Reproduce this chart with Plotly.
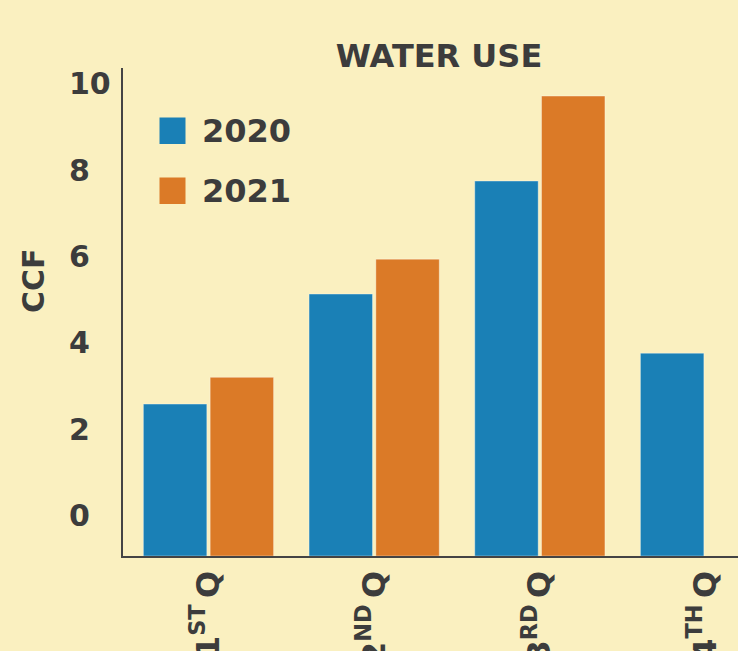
import plotly.graph_objects as go

# ---- data ----
quarters = ["1<sup>ST</sup>\u2009Q", "2<sup>ND</sup>\u2009Q", "3<sup>RD</sup>\u2009Q", "4<sup>TH</sup>\u2009Q"]
use_2020 = [2.58, 5.13, 7.75, 3.76]
use_2021 = [3.20, 5.94, 9.72, None]
series_names = ["2020", "2021"]
y_ticks = [0, 2, 4, 6, 8, 10]

# ---- style ----
W, H = 738, 651
BG = "#FAF0C0"
BLUE = "#1A80B6"
ORANGE = "#DB7A27"
TXT = "#3C3C3C"
AXIS = "#444444"
FONT = "DejaVu Sans, sans-serif"

Y_MIN, Y_MAX = -0.94, 10.37
X_MIN, X_MAX = -0.516, 3.196
PLOT_LEFT = 123
PLOT_TOP, PLOT_BOTTOM = 68, 556

def py(sy):
    return (PLOT_BOTTOM - sy) / (PLOT_BOTTOM - PLOT_TOP)

fig = go.Figure()
for name, vals, col in [(series_names[0], use_2020, BLUE), (series_names[1], use_2021, ORANGE)]:
    fig.add_trace(go.Bar(
        name=name, x=quarters,
        y=[None if v is None else v - Y_MIN for v in vals],
        base=Y_MIN,
        marker=dict(color=col, line=dict(color="rgba(255,255,255,0.35)", width=1)),
        showlegend=False,
        customdata=vals, hovertemplate="%{customdata}<extra>" + name + "</extra>",
    ))

fig.update_layout(
    width=W, height=H,
    paper_bgcolor=BG, plot_bgcolor=BG,
    margin=dict(l=0, r=0, t=PLOT_TOP, b=H - PLOT_BOTTOM, autoexpand=False),
    barmode="group", bargap=0.194, bargroupgap=0.05,
    font=dict(family=FONT, color=TXT),
    title=dict(text="<b>WATER USE</b>", x=439 / W, xref="container", xanchor="center",
               y=1 - 56 / H, yref="container", yanchor="middle",
               font=dict(size=32, color=TXT, family=FONT)),
    xaxis=dict(domain=[PLOT_LEFT / W, 1], range=[X_MIN, X_MAX], showline=True,
               linecolor=AXIS, linewidth=2, ticks="", tickangle=-90, automargin=False,
               tickfont=dict(size=32, color=TXT, family=FONT, weight="bold"),
               ticklabelstandoff=0, showgrid=False, zeroline=False),
    yaxis=dict(range=[Y_MIN, Y_MAX], showline=True, linecolor=AXIS, linewidth=2,
               showticklabels=False, ticks="", tickvals=y_ticks, showgrid=False,
               zeroline=False, automargin=False),
    yaxis2=dict(range=[Y_MIN, Y_MAX], overlaying="y", anchor="free", side="right",
                position=68 / W, tickvals=y_ticks, ticks="", showline=False,
                showgrid=False, zeroline=False, automargin=False,
                tickfont=dict(size=30, color=TXT, family=FONT, weight="bold")),
    showlegend=False,
)
fig.add_trace(go.Scatter(x=[None], y=[None], yaxis="y2", showlegend=False, hoverinfo="skip"))

# y axis title
fig.add_annotation(text="<b>CCF</b>", xref="paper", yref="paper", x=33 / W, y=py(281),
                   xanchor="center", yanchor="middle",
                   textangle=-90, showarrow=False, font=dict(size=30, color=TXT, family=FONT))

# legend (large swatches)
for i, (name, col) in enumerate([(series_names[0], BLUE), (series_names[1], ORANGE)]):
    top = 117.5 + i * 60
    fig.add_shape(type="rect", xref="paper", yref="paper",
                  x0=159.5 / W, x1=185.5 / W, y0=py(top + 26.5), y1=py(top),
                  fillcolor=col, line=dict(width=0))
    fig.add_annotation(text="<b>" + name + "</b>", xref="paper", yref="paper",
                       x=200 / W, y=py(top + 13.5), xanchor="left", yanchor="middle",
                       showarrow=False, font=dict(size=32, color=TXT, family=FONT))

fig.write_html("out.html")
